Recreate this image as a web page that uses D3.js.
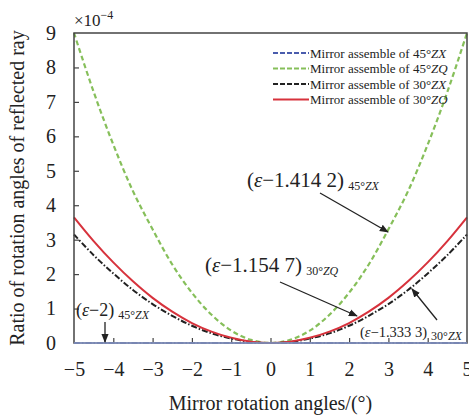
<!DOCTYPE html>
<html>
<head>
<meta charset="utf-8">
<script src="https://cdn.jsdelivr.net/npm/d3@7"></script>
<style>
  body { margin: 0; background: #fff; }
  svg text { font-family: "Times New Roman", "Liberation Serif", Times, serif; }
</style>
</head>
<body>
<svg width="469" height="415"></svg>
<script>
// values, in units of 1e-4
var angles = [-5, -4.5, -4, -3.5, -3, -2.5, -2, -1.5, -1, -0.5, 0, 0.5, 1, 1.5, 2, 2.5, 3, 3.5, 4, 4.5, 5];
var zx45 = [0, 0, 0, 0, 0, 0, 0, 0, 0, 0, 0, 0, 0, 0, 0, 0, 0, 0, 0, 0, 0];
var zq45 = [9.0, 7.29, 5.76, 4.41, 3.3, 2.28, 1.46, 0.82, 0.36, 0.09, 0, 0.09, 0.36, 0.82, 1.46, 2.28, 3.3, 4.41, 5.76, 7.29, 9.0];
var zx30 = [3.15, 2.55, 2.02, 1.54, 1.13, 0.79, 0.5, 0.28, 0.13, 0.03, 0, 0.03, 0.13, 0.28, 0.5, 0.79, 1.13, 1.54, 2.02, 2.55, 3.15];
var zo30 = [3.65, 2.96, 2.34, 1.79, 1.31, 0.91, 0.58, 0.33, 0.15, 0.04, 0, 0.04, 0.15, 0.33, 0.58, 0.91, 1.31, 1.79, 2.34, 2.96, 3.65];
var xTicks = [-5, -4, -3, -2, -1, 0, 1, 2, 3, 4, 5];
var yTicks = [0, 1, 2, 3, 4, 5, 6, 7, 8, 9];

var series = [
  {name: "45°", it: "ZX", values: zx45, color: "#4a5cad", dash: "6,2,1.5,2", width: 2},
  {name: "45°", it: "ZQ", values: zq45, color: "#86bf5a", dash: "5,3", width: 2.2},
  {name: "30°", it: "ZX", values: zx30, color: "#222", dash: "6,2,1.5,2", width: 2},
  {name: "30°", it: "ZO", values: zo30, color: "#d7323c", dash: null, width: 2}
];

var svg = d3.select("svg");

var x = d3.scaleLinear().domain([-5, 5]).range([74, 467]);
var y = d3.scaleLinear().domain([0, 9]).range([343, 33]);

var line = d3.line()
    .x(function(d) { return x(d[0]); })
    .y(function(d) { return y(d[1]); })
    .curve(d3.curveCatmullRom);

// curves (drawn first, frame on top)
svg.append("g").selectAll("path")
  .data(series)
  .enter().append("path")
    .attr("fill", "none")
    .attr("stroke", function(d) { return d.color; })
    .attr("stroke-width", function(d) { return d.width; })
    .attr("stroke-dasharray", function(d) { return d.dash; })
    .attr("d", function(d) { return line(angles.map(function(a, i) { return [a, d.values[i]]; })); });

// axes
var gx = svg.append("g")
    .attr("transform", "translate(0," + y(0) + ")")
    .call(d3.axisBottom(x).tickValues(xTicks).tickSizeInner(-5).tickSizeOuter(0).tickPadding(19)
      .tickFormat(function(d) { return d < 0 ? "\u2212" + Math.abs(d) : d; }));
var gy = svg.append("g")
    .attr("transform", "translate(" + x(-5) + ",0)")
    .call(d3.axisLeft(y).tickValues(yTicks).tickSizeInner(-5).tickSizeOuter(0).tickPadding(18));

[gx, gy].forEach(function(g) {
  g.attr("font-family", null);
  g.select(".domain").remove();
  g.selectAll("line").attr("stroke", "#444").attr("stroke-width", 1.2);
  g.selectAll("text").attr("font-size", 20).attr("fill", "#222");
});
gx.selectAll(".tick").filter(function(d) { return d == -5 || d == 5; }).select("line").remove();
gy.selectAll(".tick").filter(function(d) { return d == 0 || d == 9; }).select("line").remove();

// frame
svg.append("rect")
    .attr("x", x(-5)).attr("y", y(9))
    .attr("width", x(5) - x(-5)).attr("height", y(0) - y(9))
    .attr("fill", "none").attr("stroke", "#444").attr("stroke-width", 1.5);
// blue zero line sits on the bottom axis
svg.append("line")
    .attr("x1", x(-5)).attr("x2", x(5)).attr("y1", y(0)).attr("y2", y(0))
    .attr("stroke", "#8a9bcf").attr("stroke-width", 1.5);

// exponent
var exp = svg.append("text").attr("x", 74).attr("y", 26).attr("font-size", 17).attr("fill", "#222");
exp.append("tspan").text("\u00d710");
exp.append("tspan").attr("dy", -7).attr("font-size", 12).text("\u22124");

// axis titles
svg.append("text")
    .attr("x", x(0)).attr("y", 410)
    .attr("text-anchor", "middle").attr("font-size", 20).attr("fill", "#222")
    .text("Mirror rotation angles/(\u00b0)");
svg.append("text")
    .attr("transform", "translate(24,188) rotate(-90)")
    .attr("text-anchor", "middle").attr("font-size", 20).attr("fill", "#222")
    .text("Ratio of rotation angles of reflected ray");

// legend
var legend = svg.append("g").attr("transform", "translate(273,53)");
var item = legend.selectAll("g")
  .data(series)
  .enter().append("g")
    .attr("transform", function(d, i) { return "translate(0," + (i * 15.5) + ")"; });
item.append("line")
    .attr("x1", 0).attr("x2", 36)
    .attr("stroke", function(d) { return d.color; })
    .attr("stroke-width", 2)
    .attr("stroke-dasharray", function(d) { return d.dash ? "5,2" : null; });
var lt = item.append("text")
    .attr("x", 37).attr("dy", "0.35em")
    .attr("font-size", 13).attr("fill", "#222");
lt.append("tspan").text(function(d) { return "Mirror assemble of " + d.name; });
lt.append("tspan").attr("font-style", "italic").text(function(d) { return d.it; });

// annotations
var notes = [
  {label: "1.414 2", sub: "45\u00b0", it: "ZX", tx: 247, ty: 187, size: 21, from: [320, 193], to: [388, 232]},
  {label: "1.154 7", sub: "30\u00b0", it: "ZQ", tx: 205, ty: 272, size: 21, from: [280, 282], to: [357, 316]},
  {label: "1.333 3", sub: "30\u00b0", it: "ZX", tx: 360, ty: 337, size: 14.5, from: [437, 320], to: [412, 289]},
  {label: "2", sub: "45\u00b0", it: "ZX", tx: 76, ty: 316, size: 18, from: [105, 322], to: [105, 342]}
];

svg.append("defs").append("marker")
    .attr("id", "head")
    .attr("viewBox", "0 0 10 10")
    .attr("refX", 9).attr("refY", 5)
    .attr("markerWidth", 9).attr("markerHeight", 9)
    .attr("markerUnits", "userSpaceOnUse")
    .attr("orient", "auto")
  .append("path")
    .attr("d", "M0,1 L10,5 L0,9 Z")
    .attr("fill", "#222");

notes.forEach(function(n) {
  var t = svg.append("text")
      .attr("x", n.tx).attr("y", n.ty)
      .attr("font-size", n.size).attr("fill", "#222");
  t.append("tspan").text("(");
  t.append("tspan").attr("font-style", "italic").text("\u03b5");
  t.append("tspan").text("\u2212" + n.label + ")");
  var s = t.append("tspan").attr("dx", 4).attr("dy", 3).attr("font-size", 12);
  s.append("tspan").text(n.sub);
  s.append("tspan").attr("font-style", "italic").text(n.it);

  svg.append("line")
      .attr("x1", n.from[0]).attr("y1", n.from[1])
      .attr("x2", n.to[0]).attr("y2", n.to[1])
      .attr("stroke", "#222").attr("stroke-width", 1.3)
      .attr("marker-end", "url(#head)");
});
</script>
</body>
</html>
